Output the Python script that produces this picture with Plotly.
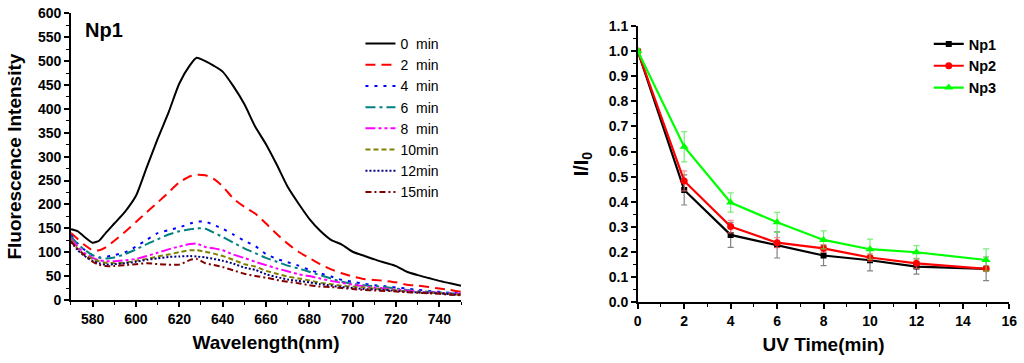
import plotly.graph_objects as go

# ---------------- data: left panel (fluorescence spectra) ----------------
wavelength = [570, 573, 576, 580, 583, 586, 590, 595, 600, 605, 610, 615, 620, 625, 628,
              632, 636, 640, 645, 650, 655, 660, 665, 670, 675, 680, 685, 690, 695, 700,
              705, 710, 715, 720, 725, 730, 735, 740, 745, 750]

min0 = [148, 144, 133, 120, 124, 140, 160, 185, 218, 278, 337, 392, 453, 492, 507,
        500, 490, 478, 447, 410, 363, 326, 283, 237, 202, 170, 145, 126, 116, 101,
        93, 85, 78, 71, 59, 52, 46, 40, 35, 30]
min2 = [140, 128, 116, 104, 104, 110, 124, 143, 163, 184, 204, 225, 246, 259, 262,
        261, 253, 238, 212, 195, 181, 160, 138, 118, 101, 88, 75, 64, 56, 49,
        44, 42, 40, 37, 32, 30, 27, 24, 21, 17]
min4 = [136, 119, 106, 93, 89, 90, 94, 100, 112, 126, 140, 146, 152, 160, 164,
        164, 157, 149, 137, 124, 113, 96, 86, 79, 72, 63, 56, 49, 42, 38,
        34, 31, 29, 26, 24, 21, 19, 17, 15, 14]
min6 = [133, 118, 106, 94, 89, 87, 89, 96, 106, 117, 127, 137, 144, 148, 150,
        149, 141, 132, 120, 108, 98, 88, 80, 72, 66, 59, 52, 45, 38, 34,
        31, 29, 27, 24, 21, 19, 17, 16, 14, 13]
min8 = [129, 112, 99, 88, 83, 81, 81, 83, 86, 92, 99, 106, 112, 117, 118,
        111, 108, 104, 95, 88, 80, 73, 66, 60, 54, 50, 45, 40, 36, 32,
        29, 26, 24, 22, 20, 18, 16, 15, 14, 13]
min10 = [126, 108, 95, 86, 81, 78, 77, 78, 82, 86, 91, 95, 100, 104, 104,
         101, 97, 92, 84, 75, 70, 61, 55, 49, 45, 41, 36, 33, 30, 28,
         26, 24, 22, 20, 18, 16, 15, 14, 12, 11]
min12 = [122, 105, 93, 82, 77, 74, 75, 77, 80, 84, 87, 90, 91, 92, 91,
         89, 86, 82, 76, 68, 63, 54, 48, 43, 40, 37, 33, 30, 27, 25,
         23, 22, 21, 19, 17, 16, 15, 14, 12, 11]
min15 = [122, 107, 95, 80, 74, 71, 71, 73, 75, 77, 75, 74, 74, 84, 86,
         77, 73, 69, 62, 55, 50, 47, 42, 38, 35, 31, 28, 27, 25, 23,
         21, 20, 19, 18, 16, 15, 14, 13, 11, 10]

spectra_names = ["0\u00a0\u00a0min", "2\u00a0\u00a0min", "4\u00a0\u00a0min", "6\u00a0\u00a0min",
                 "8\u00a0\u00a0min", "10min", "12min", "15min"]
spectra = [min0, min2, min4, min6, min8, min10, min12, min15]

# ---------------- data: right panel (I/I0 vs UV time) ----------------
uv_time = [0, 2, 4, 6, 8, 10, 12, 15]
np1 = [1.0, 0.447, 0.268, 0.228, 0.186, 0.167, 0.142, 0.133]
np1_err = [0.01, 0.06, 0.05, 0.052, 0.04, 0.042, 0.03, 0.047]
np2 = [1.0, 0.483, 0.301, 0.237, 0.214, 0.178, 0.155, 0.133]
np2_err = [0.01, 0.04, 0.025, 0.02, 0.015, 0.015, 0.02, 0.01]
np3 = [1.0, 0.619, 0.397, 0.318, 0.248, 0.211, 0.199, 0.168]
np3_err = [0.01, 0.06, 0.038, 0.04, 0.036, 0.04, 0.026, 0.044]

# ---------------- styles ----------------
spec_colors = ["#000000", "#FF0000", "#0000FF", "#008080", "#FF00FF", "#808000", "#000080", "#800000"]
spec_dashes = ["solid", "10px,6px", "3px,6px", "10px,4px,3px,4px", "10px,3px,3px,3px,3px,3px",
               "5px,3px", "2px,2px", "6px,3px,2px,3px"]

FONT = "Liberation Sans, Arial, sans-serif"

fig = go.Figure()

for name, vals, col, dash in zip(spectra_names, spectra, spec_colors, spec_dashes):
    fig.add_trace(go.Scatter(
        x=wavelength, y=vals, mode="lines", name=name,
        line=dict(color=col, width=2, dash=dash, shape="spline", smoothing=0.6),
        xaxis="x", yaxis="y", legend="legend"))

series = [
    ("Np1", np1, np1_err, "#000000", "rgba(90,90,90,0.75)", "square", 6),
    ("Np2", np2, np2_err, "#FF0000", "rgba(255,110,110,0.75)", "circle", 7),
    ("Np3", np3, np3_err, "#00FF00", "rgba(90,230,90,0.8)", "triangle-up", 8),
]
for name, vals, err, col, ecol, sym, ms in series:
    fig.add_trace(go.Scatter(
        x=uv_time, y=vals, mode="lines+markers", name=name,
        line=dict(color=col, width=2.2),
        marker=dict(symbol=sym, size=ms, color=col),
        error_y=dict(type="data", array=err, visible=True, color=ecol, thickness=1.2, width=3),
        xaxis="x2", yaxis="y2", legend="legend2"))

tickfont = dict(family=FONT, size=14, color="black", weight="bold")
titlefont = dict(family=FONT, size=19, color="black", weight="bold")
common = dict(showgrid=False, zeroline=False, showline=True, linecolor="black", linewidth=1.5,
              ticks="outside", ticklen=5, tickwidth=1.5, tickcolor="black", tickfont=tickfont,
              mirror=False, automargin=False)
minor_style = dict(ticklen=3, tickwidth=1.2, tickcolor="black", ticks="outside")

fig.update_layout(
    width=1024, height=363,
    margin=dict(l=0, r=0, t=0, b=0, autoexpand=False),
    paper_bgcolor="white", plot_bgcolor="white",
    font=dict(family=FONT, color="black"),
    xaxis=dict(domain=[0.0693, 0.4502], range=[570, 750], dtick=20, tick0=580,
               minor=dict(dtick=10, **minor_style),
               title=dict(text="Wavelength(nm)", font=titlefont, standoff=10), anchor="y", **common),
    yaxis=dict(domain=[0.1736, 0.9633], range=[0, 600], dtick=50,
               minor=dict(dtick=25, **minor_style),
               title=dict(text="Fluorescence Intensity", font=titlefont, standoff=11), anchor="x", **common),
    xaxis2=dict(domain=[0.6228, 0.9857], range=[0, 16], dtick=2,
                minor=dict(dtick=1, **minor_style),
                title=dict(text="UV Time(min)", font=titlefont, standoff=10), anchor="y2", **common),
    yaxis2=dict(domain=[0.1675, 0.9284], range=[0, 1.1], dtick=0.1, tickformat=".1f",
                minor=dict(dtick=0.05, **minor_style),
                title=dict(text="I/I<sub>0</sub>", font=dict(family=FONT, size=20, color="black", weight="bold"),
                           standoff=15), anchor="x2", **common),
    legend=dict(x=0.352, y=0.923, xanchor="left", yanchor="top", bgcolor="rgba(0,0,0,0)",
                font=dict(family=FONT, size=14, color="black"), tracegroupgap=0, itemwidth=30),
    legend2=dict(x=0.907, y=0.923, xanchor="left", yanchor="top", bgcolor="rgba(0,0,0,0)",
                 font=dict(family=FONT, size=14.5, color="black", weight="bold"), itemwidth=30),
    showlegend=True,
    annotations=[dict(text="Np1", x=0.1016, y=0.918, xref="paper", yref="paper",
                      xanchor="center", yanchor="middle", showarrow=False,
                      font=dict(family=FONT, size=20, color="black", weight="bold"))],
)

fig.write_html("out.html", config={"displayModeBar": False},
               post_script="document.body.style.margin='0';")
